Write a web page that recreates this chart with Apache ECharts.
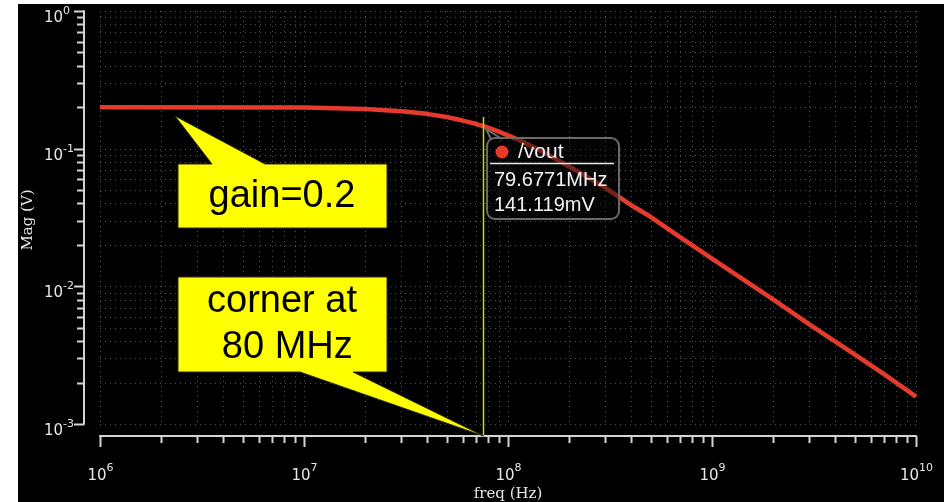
<!DOCTYPE html>
<html>
<head>
<meta charset="utf-8">
<script src="https://cdn.jsdelivr.net/npm/echarts@6/dist/echarts.min.js"></script>
<style>
html,body{margin:0;padding:0;background:#fff;width:944px;height:502px;overflow:hidden;}
#main{position:absolute;left:18px;top:4px;width:926px;height:498px;}
</style>
</head>
<body>
<div id="main"></div>
<script>
// ---- data ----
const freqs = [1e6, 1e7, 2e7, 3e7, 4e7, 5e7, 6e7, 7e7, 8e7, 9e7, 1e8, 1.2e8, 1.5e8, 2e8, 3e8, 4e8, 5e8, 7e8, 1e9, 2e9, 3e9, 5e9, 7e9, 1e10];
const mag   = [0.200, 0.199, 0.194, 0.187, 0.179, 0.170, 0.160, 0.151, 0.142, 0.133, 0.125, 0.111, 0.094, 0.074, 0.052, 0.039, 0.032, 0.0227, 0.0159, 0.0080, 0.0053, 0.0032, 0.00229, 0.00158];
const xDecades = [1e6, 1e7, 1e8, 1e9, 1e10];
const yDecades = [1e-3, 1e-2, 1e-1, 1];
const minorSteps = [2, 3, 4, 5, 6, 7, 8, 9];
const cursorFreq = 75e6;
const cursorTop = 0.17;
const seriesName = '/vout';
const cursorFreqLabel = '79.6771MHz';
const cursorValueLabel = '141.119mV';
const xName = 'freq (Hz)';
const yName = 'Mag (V)';

// tick lists
const xTickData = [];
xDecades.forEach((d, i) => {
  xTickData.push([d, 0.01, 1]);
  if (i < xDecades.length - 1) minorSteps.forEach(m => xTickData.push([d * m, 0.01, 0]));
});
const yTickData = [];
yDecades.forEach((d, i) => {
  yTickData.push([1e7, d, 1]);
  if (i < yDecades.length - 1) minorSteps.forEach(m => yTickData.push([1e7, d * m, 0]));
});

const OX = 18, OY = 4;
function P(x, y) { return [x - OX, y - OY]; }

const labelFill = '#e6e6e6';
const axisCol = '#d4d4d4';
const gridCol = '#525252';
const richLbl = function (padTop) {
  return {
    b: { fontSize: 15, fontFamily: 'DejaVu Sans', fill: labelFill, lineHeight: 16, padding: [padTop, 0, 0, 0], verticalAlign: 'top' },
    s: { fontSize: 11, fontFamily: 'DejaVu Sans', fill: labelFill, lineHeight: 12, verticalAlign: 'top' }
  };
};

const chart = echarts.init(document.getElementById('main'));
const option = {
  backgroundColor: '#000',
  animation: false,
  tooltip: { show: false },
  grid: { left: 82, right: 28, top: 7, bottom: 78 },
  xAxis: {
    type: 'log', logBase: 10, min: 1e6, max: 1e10, offset: 12,
    axisLine: { show: true, onZero: false, lineStyle: { color: axisCol, width: 2 } },
    axisTick: { show: false }, axisLabel: { show: false }, splitLine: { show: false }
  },
  yAxis: {
    type: 'log', logBase: 10, min: 1e-3, max: 1, offset: 16,
    axisLine: { show: true, onZero: false, lineStyle: { color: axisCol, width: 2 } },
    axisTick: { show: false }, axisLabel: { show: false }, splitLine: { show: false }
  },
  series: [
    {
      type: 'custom', coordinateSystem: 'cartesian2d', clip: false, silent: true, z: 1,
      encode: { x: 0, y: 1 },
      data: xTickData,
      renderItem: function (params, api) {
        const v = api.value(0), major = api.value(2);
        const pTop = api.coord([v, 1]), pBot = api.coord([v, 1e-3]);
        const x = Math.round(pTop[0]) + 0.5;
        const ay = pBot[1] + 12;
        const ch = [
          { type: 'line', shape: { x1: x, y1: pTop[1], x2: x, y2: pBot[1] }, style: { stroke: gridCol, lineWidth: 1, lineDash: [1, 4] } },
          { type: 'line', shape: { x1: x, y1: ay, x2: x, y2: ay + (major ? 11 : 7) }, style: { stroke: axisCol, lineWidth: 2 } }
        ];
        if (major) {
          const e = Math.round(Math.log10(v));
          ch.push({ type: 'text', style: { text: '{b|10}{s|' + e + '}', rich: richLbl(6), x: x, y: pBot[1] + 39, align: 'center', verticalAlign: 'top' } });
        }
        return { type: 'group', children: ch };
      }
    },
    {
      type: 'custom', coordinateSystem: 'cartesian2d', clip: false, silent: true, z: 1,
      encode: { x: 0, y: 1 },
      data: yTickData,
      renderItem: function (params, api) {
        const v = api.value(1), major = api.value(2);
        const pL = api.coord([1e6, v]), pR = api.coord([1e10, v]);
        const y = Math.round(pL[1]) + 0.5;
        const ax = pL[0] - 16;
        const ch = [
          { type: 'line', shape: { x1: pL[0], y1: y, x2: pR[0], y2: y }, style: { stroke: gridCol, lineWidth: 1, lineDash: [1, 4] } },
          { type: 'line', shape: { x1: ax, y1: y, x2: ax - (major ? 10 : 7), y2: y }, style: { stroke: axisCol, lineWidth: 2 } }
        ];
        if (major) {
          const e = Math.round(Math.log10(v));
          ch.push({ type: 'text', style: { text: '{b|10}{s|' + e + '}', rich: richLbl(5), x: pL[0] - 56, y: y - 6, align: 'left', verticalAlign: 'top' } });
        }
        return { type: 'group', children: ch };
      }
    },
    {
      name: seriesName, type: 'line', z: 5, symbol: 'none', smooth: false,
      data: freqs.map((f, i) => [f, mag[i]]),
      lineStyle: { color: '#e43b2c', width: 4.5 }
    }
  ]
};
chart.setOption(option);

const cx = Math.round(chart.convertToPixel({ xAxisIndex: 0 }, cursorFreq)) + 0.5;
const cyTop = chart.convertToPixel({ yAxisIndex: 0 }, cursorTop);
const axisY = chart.convertToPixel({ yAxisIndex: 0 }, 1e-3) + 12;

const txt = (t, x, y, font, fill, align, extra) => Object.assign({
  type: 'text', x: x, y: y, z: 120,
  style: { text: t, font: font, fill: fill, align: align || 'center', verticalAlign: 'middle' }
}, extra || {});

const g = [];
// cursor
g.push({ type: 'line', z: 50, shape: { x1: cx, y1: cyTop, x2: cx, y2: axisY }, style: { stroke: '#d6d600', lineWidth: 1.5 } });
// callout 1
g.push({ type: 'polygon', z: 110, shape: { points: [P(178,164), P(212,164), P(175,116), P(265,164), P(387,164), P(387,228), P(178,228)] }, style: { fill: '#ffff00', stroke: '#2a2a2a', lineWidth: 1 } });
g.push(txt('gain=0.2', P(282,197)[0], P(282,197)[1], '38px "Liberation Sans"', '#000'));
// callout 2
g.push({ type: 'polygon', z: 110, shape: { points: [P(178,277), P(387,277), P(387,372), P(353,372), [cx, axisY], P(300,372), P(178,372)] }, style: { fill: '#ffff00', stroke: '#2a2a2a', lineWidth: 1 } });
g.push(txt('corner at', P(282,302)[0], P(282,302)[1], '38px "Liberation Sans"', '#000'));
g.push(txt(' 80 MHz', P(282,348)[0], P(282,348)[1], '38px "Liberation Sans"', '#000'));
// tooltip box
g.push({ type: 'polygon', z: 100, shape: { points: [P(486,129), P(490,139), P(502,139)] }, style: { fill: 'rgba(8,8,8,0.5)' } });
g.push({ type: 'polyline', z: 101, shape: { points: [P(502,139), P(486,129), P(491,139)] }, style: { stroke: '#6a6a6a', lineWidth: 2, fill: null } });
g.push({ type: 'rect', z: 100, shape: { x: P(487,138)[0], y: P(487,138)[1], width: 132, height: 81, r: 8 }, style: { fill: 'rgba(8,8,8,0.5)', stroke: '#6a6a6a', lineWidth: 2 } });
g.push({ type: 'circle', z: 105, shape: { cx: P(502,152)[0], cy: P(502,152)[1], r: 6.5 }, style: { fill: '#e8392b' } });
g.push(txt(seriesName, P(518,152)[0], P(518,152)[1], '21px "Liberation Sans"', '#f2f2f2', 'left'));
g.push({ type: 'line', z: 105, shape: { x1: P(490,163)[0], y1: P(490,163)[1] + 0.5, x2: P(614,163)[0], y2: P(614,163)[1] + 0.5 }, style: { stroke: '#e8e8e8', lineWidth: 1.5 } });
g.push(txt(cursorFreqLabel, P(494,180)[0], P(494,180)[1], '20px "Liberation Sans"', '#f2f2f2', 'left'));
g.push(txt(cursorValueLabel, P(494,205)[0], P(494,205)[1], '20px "Liberation Sans"', '#f2f2f2', 'left'));
// axis names
g.push(txt(yName, P(28,220)[0], P(28,220)[1], '15px "DejaVu Serif"', labelFill, 'center', { rotation: Math.PI / 2 }));
g.push(txt(xName, P(508,494)[0], P(508,494)[1], '15px "DejaVu Serif"', labelFill, 'center'));

chart.setOption({ graphic: g });
</script>
</body>
</html>
